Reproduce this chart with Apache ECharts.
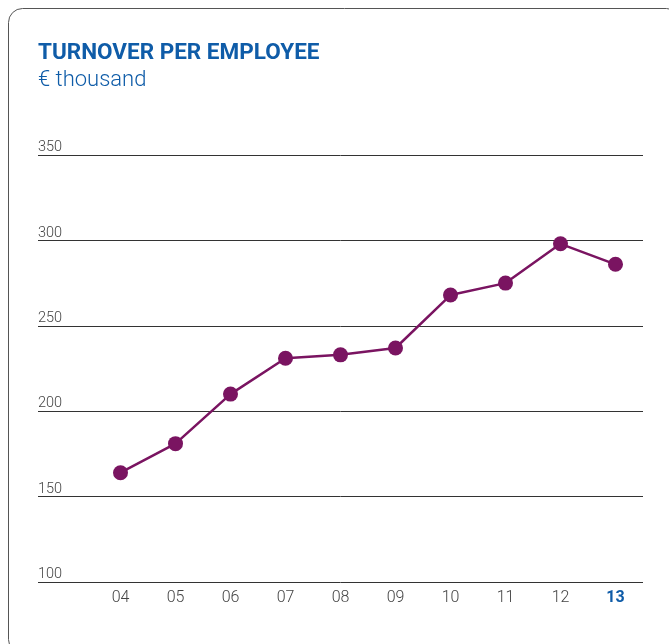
<!DOCTYPE html>
<html>
<head>
<meta charset="utf-8">
<script src="https://cdn.jsdelivr.net/npm/echarts@6/dist/echarts.min.js"></script>
<style>
  html, body { margin: 0; padding: 0; background: #fff; }
  #chart { width: 669px; height: 644px; }
</style>
</head>
<body>
<div id="chart"></div>
<script>
// turnover per employee, € thousand
const years = ['04', '05', '06', '07', '08', '09', '10', '11', '12', '13'];
const turnover = [164, 181, 210, 231, 233, 237, 268, 275, 298, 286];
const yTicks = [100, 150, 200, 250, 300, 350];

const purple = '#7a1461';
const blue = '#0f5ca8';

// first category is left empty, that is where the y labels sit
const categories = [''].concat(years);
const seriesData = ['-'].concat(turnover);

const chart = echarts.init(document.getElementById('chart'));
chart.setOption({
  animation: false,
  title: {
    text: 'TURNOVER PER EMPLOYEE',
    subtext: '€ thousand',
    left: 33,
    top: 37,
    itemGap: 4,
    textStyle: { fontFamily: 'Roboto', fontWeight: 'bold', fontSize: 22.5, color: blue },
    subtextStyle: { fontFamily: 'Roboto', fontWeight: 300, fontSize: 22, color: blue }
  },
  graphic: [{
    type: 'rect',
    shape: { x: 8.5, y: 8.5, width: 672, height: 645, r: 14 },
    style: { fill: 'none', stroke: '#555', lineWidth: 1 },
    silent: true
  }],
  grid: { left: 38, right: 26, top: 155, bottom: 62 },
  xAxis: {
    type: 'category',
    data: categories,
    boundaryGap: true,
    axisLine: { show: false },
    axisTick: { show: false },
    axisLabel: {
      interval: 0,
      margin: 8,
      fontFamily: 'Roboto',
      fontWeight: 300,
      fontSize: 16,
      color: '#444',
      formatter: function (v) {
        return v === years[years.length - 1] ? '{last|' + v + '}' : v;
      },
      rich: {
        last: { fontFamily: 'Roboto', fontWeight: 'bold', fontSize: 16, color: blue }
      }
    }
  },
  yAxis: {
    type: 'value',
    min: yTicks[0],
    max: yTicks[yTicks.length - 1],
    interval: 50,
    axisLine: { show: false },
    axisTick: { show: false },
    splitLine: { lineStyle: { color: '#333', width: 1 } },
    axisLabel: {
      inside: true,
      margin: 0,
      align: 'left',
      verticalAlign: 'bottom',
      padding: [0, 0, 0, 0],
      fontFamily: 'Roboto',
      fontWeight: 300,
      fontSize: 14.5,
      color: '#444'
    }
  },
  series: [{
    type: 'line',
    data: seriesData,
    symbol: 'circle',
    symbolSize: 15,
    lineStyle: { color: purple, width: 2.5 },
    itemStyle: { color: purple }
  }]
});
</script>
</body>
</html>
